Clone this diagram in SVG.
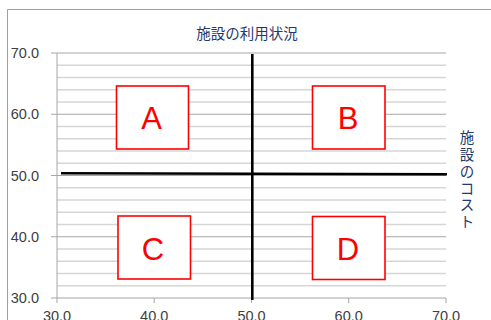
<svg xmlns="http://www.w3.org/2000/svg" width="491" height="320" viewBox="0 0 491 320">
<style>
.minor{stroke:#d6d6d6;stroke-width:1.3;fill:none}
.major{stroke:#a6a6a6;stroke-width:1;fill:none}
.axis{stroke:#a6a6a6;stroke-width:1;fill:none}
.lbl{font-family:"Liberation Sans",Arial,sans-serif;font-size:14.5px;fill:#404040}
.ttl{font-family:"Noto Sans CJK JP","Noto Sans CJK SC",sans-serif;font-size:14.5px;fill:#1f3a6e}
.box{fill:#ffffff;stroke:#ff0000;stroke-width:1.6}
.let{font-family:"Liberation Sans",Arial,sans-serif;font-size:31px;fill:#ff0000;text-anchor:middle}
.quad{stroke:#000000;fill:none}
</style>
<rect x="0" y="0" width="491" height="320" fill="#ffffff"/>
<path d="M7.5,330 V9.5 H500" fill="none" stroke="#a0a0a0" stroke-width="1"/>
<g id="grid">
<path class="minor" d="M57,65.25H446M57,77.5H446M57,89.75H446M57,102H446M57,126.5H446M57,138.75H446M57,151H446M57,163.25H446M57,187.75H446M57,200H446M57,212.25H446M57,224.5H446M57,249H446M57,261.25H446M57,273.5H446M57,285.75H446"/>
<path class="major" d="M51,53H446M51,114.25H446M51,175.5H446M51,236.75H446"/>
<path class="axis" d="M57,53V298M51,298H446M57,298V303M154.2,298V303M251.5,298V303M348.7,298V303M446,298V303"/>
</g>
<g id="axis-labels">
<text class="lbl" x="39" y="58" text-anchor="end">70.0</text>
<text class="lbl" x="39" y="119" text-anchor="end">60.0</text>
<text class="lbl" x="39" y="180.5" text-anchor="end">50.0</text>
<text class="lbl" x="39" y="241.5" text-anchor="end">40.0</text>
<text class="lbl" x="39" y="303" text-anchor="end">30.0</text>
<text class="lbl" x="57" y="321" text-anchor="middle">30.0</text>
<text class="lbl" x="154.2" y="321" text-anchor="middle">40.0</text>
<text class="lbl" x="251.5" y="321" text-anchor="middle">50.0</text>
<text class="lbl" x="348.7" y="321" text-anchor="middle">60.0</text>
<text class="lbl" x="446" y="321" text-anchor="middle">70.0</text>
</g>
<g id="title">
<text class="ttl" x="247" y="38.5" text-anchor="middle">施設の利用状況</text>
</g>
<g id="y-title">
<text class="ttl" text-anchor="middle"><tspan x="467" y="143">施</tspan><tspan x="467" y="160">設</tspan><tspan x="467" y="177">の</tspan><tspan x="467" y="193.5">コ</tspan><tspan x="467" y="210">ス</tspan><tspan x="467" y="227">ト</tspan></text>
</g>
<g id="connectors">
<line class="quad" x1="252.3" y1="54" x2="252.3" y2="300" stroke-width="2.6"/>
<line class="quad" x1="61" y1="173.3" x2="447" y2="174.3" stroke-width="2.6"/>
</g>
<g id="node-A">
<rect class="box" x="116.5" y="86" width="72" height="63"/>
<text class="let" x="151.5" y="129">A</text>
</g>
<g id="node-B">
<rect class="box" x="312.5" y="86" width="72.5" height="63"/>
<text class="let" x="348" y="129">B</text>
</g>
<g id="node-C">
<rect class="box" x="118" y="216" width="72.5" height="63"/>
<text class="let" x="153" y="260">C</text>
</g>
<g id="node-D">
<rect class="box" x="312.5" y="216.5" width="72.5" height="63"/>
<text class="let" x="348" y="260">D</text>
</g>
</svg>
